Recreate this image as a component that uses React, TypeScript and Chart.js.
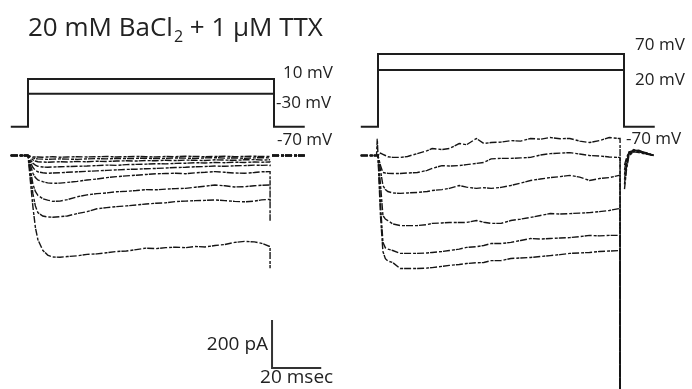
import React, { useEffect, useRef } from 'react';
import { Chart, registerables } from 'chart.js';

Chart.register(...registerables);

const W = 692;
const H = 389;
const FONT = '"Open Sans", "Noto Sans", sans-serif';

// ---------- time bases (ms) ----------
const leftTimes = [0, 1, 2, 3, 4, 6, 8, 10, 13, 16, 20, 24, 28, 32, 36, 40, 44, 48, 52, 56, 60, 64, 68, 72, 76, 80, 84, 88, 92, 95, 98];
const rightTimes = [0, 1, 2, 3, 4, 6, 9, 12, 16, 20, 22, 26, 29, 33, 36, 40, 43, 46, 50, 54, 58, 62, 66, 70, 74, 78, 82, 86, 90, 94, 98];

// ---------- left panel currents (pA), steps -30 .. 10 mV ----------
const left1 = [0, -3, -5, -6, -6, -7, -6, -5, -7, -6, -5, -6, -5, -4, -6, -5, -4, -5, -6, -4, -5, -3, -4, -5, -4, -3, -5, -4, -3, -4, -4];
const left2 = [0, -6, -10, -13, -14, -15, -16, -15, -14, -15, -16, -14, -13, -14, -12, -13, -12, -11, -13, -12, -10, -11, -12, -10, -9, -11, -10, -12, -10, -9, -10];
const left3 = [0, -10, -18, -23, -26, -27, -28, -27, -26, -27, -25, -26, -24, -25, -23, -22, -23, -21, -22, -20, -21, -19, -20, -21, -18, -19, -20, -18, -17, -19, -18];
const left4 = [0, -18, -32, -40, -45, -48, -49, -48, -47, -46, -45, -44, -42, -40, -41, -38, -37, -36, -34, -35, -33, -32, -30, -31, -29, -30, -28, -29, -27, -28, -27];
const left5 = [0, -28, -50, -62, -68, -72, -74, -73, -72, -70, -68, -66, -64, -62, -60, -58, -57, -55, -54, -52, -50, -49, -47, -46, -44, -45, -43, -42, -40, -41, -40];
const left6 = [0, -40, -74, -92, -102, -109, -114, -116, -115, -112, -108, -102, -98, -92, -88, -85, -82, -79, -76, -75, -74, -76, -72, -70, -67, -70, -73, -74, -71, -68, -67];
const left7 = [0, -60, -120, -150, -166, -180, -186, -191, -190, -184, -172, -164, -159, -156, -151, -149, -146, -142, -143, -140, -138, -137, -132, -128, -123, -126, -131, -130, -126, -124, -123];
const left8 = [0, -80, -160, -210, -238, -252, -256, -257, -255, -252, -242, -234, -222, -217, -213, -210, -206, -202, -199, -197, -192, -190, -188, -187, -185, -188, -191, -193, -190, -185, -183];
const left9 = [0, -110, -214, -300, -350, -395, -415, -423, -424, -421, -418, -412, -410, -405, -400, -398, -392, -386, -388, -384, -382, -384, -379, -381, -375, -371, -362, -358, -360, -366, -378];
const leftTraces = [left1, left2, left3, left4, left5, left6, left7, left8, left9];
const leftTails = [-4, -10, -18, -28, -45, -125, -190, -272, -470];

// ---------- right panel currents (pA), steps 20 .. 70 mV ----------
const rightA = [0, 10, 5, 0, -5, -8, -8, -4, 8, 20, 29, 25, 29, 50, 45, 71, 50, 54, 56, 62, 60, 71, 68, 75, 70, 71, 60, 54, 62, 75, 71];
const rightB = [0, -42, -71, -73, -74, -75, -75, -73, -71, -62, -54, -42, -44, -42, -38, -33, -29, -14, -12, -12, -10, -8, 2, 8, 10, 12, 6, 0, -2, -6, -8];
const rightC = [0, -60, -125, -142, -150, -156, -158, -156, -154, -150, -146, -142, -137, -125, -132, -137, -134, -137, -133, -125, -115, -104, -98, -92, -88, -83, -90, -104, -96, -92, -83];
const rightD = [0, -120, -250, -265, -271, -285, -292, -292, -292, -288, -283, -281, -279, -279, -279, -271, -278, -283, -283, -271, -265, -258, -250, -242, -244, -242, -240, -238, -234, -229, -221];
const rightE = [0, -200, -362, -385, -390, -396, -408, -408, -408, -406, -404, -400, -396, -390, -383, -380, -375, -367, -367, -362, -354, -346, -348, -346, -344, -342, -338, -333, -335, -333, -333];
const rightF = [0, -250, -400, -430, -440, -446, -471, -471, -471, -469, -467, -462, -458, -454, -450, -447, -446, -438, -438, -429, -427, -425, -421, -417, -413, -408, -406, -404, -400, -398, -396];
const rightTraces = [rightA, rightB, rightC, rightD, rightE, rightF];
const rightTail = -1000;

// pre-step holding (ms / pA)
const preTimes = [-7, -0.6, -0.3];
const preRight = [[0, 0, 70], [0, 0, 0], [0, 0, 0], [0, 0, 0], [0, 0, 0], [0, 0, 0]];
const preLeft = [0, 0, 0];

// post-step (after tail)
const tailTime = 98.4;
const postLeftTimes = [99.2, 112.5];
const postLeftVals = [0, 0];
const postRightTimes = [100.2, 101, 102, 104, 106, 109, 112];
const postRight = [
  [-40, -10, 15, 20, 18, 12, 0],
  [-60, -20, 10, 22, 15, 8, 2],
  [-100, -40, 5, 18, 20, 10, 0],
  [-140, -60, 0, 15, 12, 6, 0],
  [-80, -30, 12, 25, 16, 10, 2],
  [-120, -50, 8, 20, 22, 8, 0],
];

// ---------- voltage protocols (schematic step heights above holding) ----------
const protocolTimes = [-7, 0, 100, 112.5];
const leftLevelLabels = ['-70 mV', '-30 mV', '10 mV'];
const leftLevelHeights = [0, 33, 47.7];
const rightLevelLabels = ['-70 mV', '20 mV', '70 mV'];
const rightLevelHeights = [0, 56.7, 72.7];

// ---------- scale bar ----------
const scaleBarPA = 200;
const scaleBarMs = 20;
const scaleBarOrigin = { t: 99.2, pA: -885 };

// ---------- axis ranges ----------
const PX_PER_MS = 2.46;
const leftOnsetPx = 28;
const rightOnsetPx = 378;
const yIRange = { min: -973, max: 648 };
const yPRange = { min: -262.3, max: 126.7 };

function traceData(pre: number[], preT: number[], times: number[], vals: number[], tail: number, postT: number[], post: number[]) {
  const pts: { x: number; y: number | null }[] = [];
  preT.forEach((t, i) => pts.push({ x: t, y: pre[i] }));
  times.forEach((t, i) => pts.push({ x: t, y: vals[i] }));
  const last = vals[vals.length - 1];
  pts.push({ x: tailTime, y: last });
  pts.push({ x: tailTime, y: tail });
  pts.push({ x: tailTime + 0.1, y: null });
  postT.forEach((t, i) => pts.push({ x: t, y: post[i] }));
  return pts;
}

function protocolData(heights: number[]) {
  const top = heights[heights.length - 1];
  return [
    { x: protocolTimes[0], y: heights[0] },
    { x: protocolTimes[1], y: heights[0] },
    { x: protocolTimes[1], y: top },
    { x: protocolTimes[2], y: top },
    { x: protocolTimes[2], y: heights[0] },
    { x: protocolTimes[3], y: heights[0] },
  ];
}

const TRACE_COLOR = '#151515';
const LINE_COLOR = '#1e1e1e';
const TRACE_DASH = [7, 2, 3, 1];

const textPlugin = {
  id: 'figText',
  afterDatasetsDraw(chart: any) {
    const { ctx, scales } = chart;
    ctx.save();
    ctx.fillStyle = '#222';
    // title
    ctx.textBaseline = 'alphabetic';
    ctx.textAlign = 'left';
    ctx.font = `26px ${FONT}`;
    let x = 28;
    const base = 36;
    const p1 = '20 mM BaCl';
    ctx.fillText(p1, x, base);
    x += ctx.measureText(p1).width;
    ctx.font = `16px ${FONT}`;
    ctx.fillText('2', x + 1, base + 6);
    x += ctx.measureText('2').width + 1;
    ctx.font = `26px ${FONT}`;
    ctx.fillText(' + 1 \u03bcM TTX', x, base);

    // voltage labels
    ctx.font = `17px ${FONT}`;
    ctx.textBaseline = 'middle';
    const lab = (text: string, axis: string, t: number, h: number, dy: number) => {
      const px = scales[axis].getPixelForValue(t);
      const py = scales.yP.getPixelForValue(h) + dy;
      ctx.fillText(text, px, py);
    };
    lab(leftLevelLabels[2], 'xL', 103.7, leftLevelHeights[2], -6);
    lab(leftLevelLabels[1], 'xL', 100.8, leftLevelHeights[1], 9);
    lab(leftLevelLabels[0], 'xL', 101.2, leftLevelHeights[0], 13);
    lab(rightLevelLabels[2], 'xR', 104.5, rightLevelHeights[2], -9);
    lab(rightLevelLabels[1], 'xR', 104.5, rightLevelHeights[1], 10);
    lab(rightLevelLabels[0], 'xR', 100.8, rightLevelHeights[0], 12);

    // scale bar labels
    ctx.font = `19px ${FONT}`;
    const bx = scales.xL.getPixelForValue(scaleBarOrigin.t);
    const byTop = scales.yI.getPixelForValue(scaleBarOrigin.pA + scaleBarPA);
    const byBot = scales.yI.getPixelForValue(scaleBarOrigin.pA);
    ctx.textAlign = 'right';
    ctx.fillText(`${scaleBarPA} pA`, bx - 4, (byTop + byBot) / 2 + 1);
    ctx.textAlign = 'center';
    const bxEnd = scales.xL.getPixelForValue(scaleBarOrigin.t + scaleBarMs);
    ctx.fillText(`${scaleBarMs} msec`, (bx + bxEnd) / 2, byBot + 10);
    ctx.restore();
  },
};

export default function App() {
  const ref = useRef<HTMLCanvasElement | null>(null);
  useEffect(() => {
    if (!ref.current) return;
    const datasets: any[] = [];
    leftTraces.forEach((vals, i) => {
      datasets.push({
        data: traceData(preLeft, preTimes, leftTimes, vals, leftTails[i], postLeftTimes, postLeftVals),
        xAxisID: 'xL', yAxisID: 'yI', borderColor: TRACE_COLOR, borderWidth: 1.4, borderDash: TRACE_DASH,
      });
    });
    rightTraces.forEach((vals, i) => {
      datasets.push({
        data: traceData(preRight[i], preTimes, rightTimes, vals, rightTail, postRightTimes, postRight[i]),
        xAxisID: 'xR', yAxisID: 'yI', borderColor: TRACE_COLOR, borderWidth: 1.4, borderDash: TRACE_DASH,
      });
    });
    // protocols
    datasets.push({ data: protocolData(leftLevelHeights), xAxisID: 'xL', yAxisID: 'yP', borderColor: LINE_COLOR, borderWidth: 2 });
    datasets.push({ data: [{ x: protocolTimes[1], y: leftLevelHeights[1] }, { x: protocolTimes[2], y: leftLevelHeights[1] }], xAxisID: 'xL', yAxisID: 'yP', borderColor: LINE_COLOR, borderWidth: 2 });
    datasets.push({ data: protocolData(rightLevelHeights), xAxisID: 'xR', yAxisID: 'yP', borderColor: LINE_COLOR, borderWidth: 2 });
    datasets.push({ data: [{ x: protocolTimes[1], y: rightLevelHeights[1] }, { x: protocolTimes[2], y: rightLevelHeights[1] }], xAxisID: 'xR', yAxisID: 'yP', borderColor: LINE_COLOR, borderWidth: 2 });
    // scale bar
    datasets.push({
      data: [
        { x: scaleBarOrigin.t, y: scaleBarOrigin.pA + scaleBarPA },
        { x: scaleBarOrigin.t, y: scaleBarOrigin.pA },
        { x: scaleBarOrigin.t + scaleBarMs, y: scaleBarOrigin.pA },
      ],
      xAxisID: 'xL', yAxisID: 'yI', borderColor: '#333', borderWidth: 2,
    });

    const chart = new Chart(ref.current, {
      type: 'line',
      data: { datasets },
      options: {
        animation: false,
        responsive: false,
        devicePixelRatio: 1,
        layout: { padding: 0 },
        elements: { point: { radius: 0 }, line: { tension: 0, fill: false, borderJoinStyle: 'miter' } },
        spanGaps: false,
        plugins: { legend: { display: false }, tooltip: { enabled: false }, title: { display: false } },
        scales: {
          xL: { type: 'linear', display: false, min: -leftOnsetPx / PX_PER_MS, max: (W - leftOnsetPx) / PX_PER_MS },
          xR: { type: 'linear', display: false, min: -rightOnsetPx / PX_PER_MS, max: (W - rightOnsetPx) / PX_PER_MS },
          yI: { type: 'linear', display: false, min: yIRange.min, max: yIRange.max },
          yP: { type: 'linear', display: false, min: yPRange.min, max: yPRange.max },
        },
      } as any,
      plugins: [textPlugin],
    });
    return () => chart.destroy();
  }, []);
  return (
    <div style={{ position: 'fixed', left: 0, top: 0, width: W, height: H, background: '#fff' }}>
      <canvas ref={ref} width={W} height={H} style={{ width: W, height: H, display: 'block' }} />
    </div>
  );
}
